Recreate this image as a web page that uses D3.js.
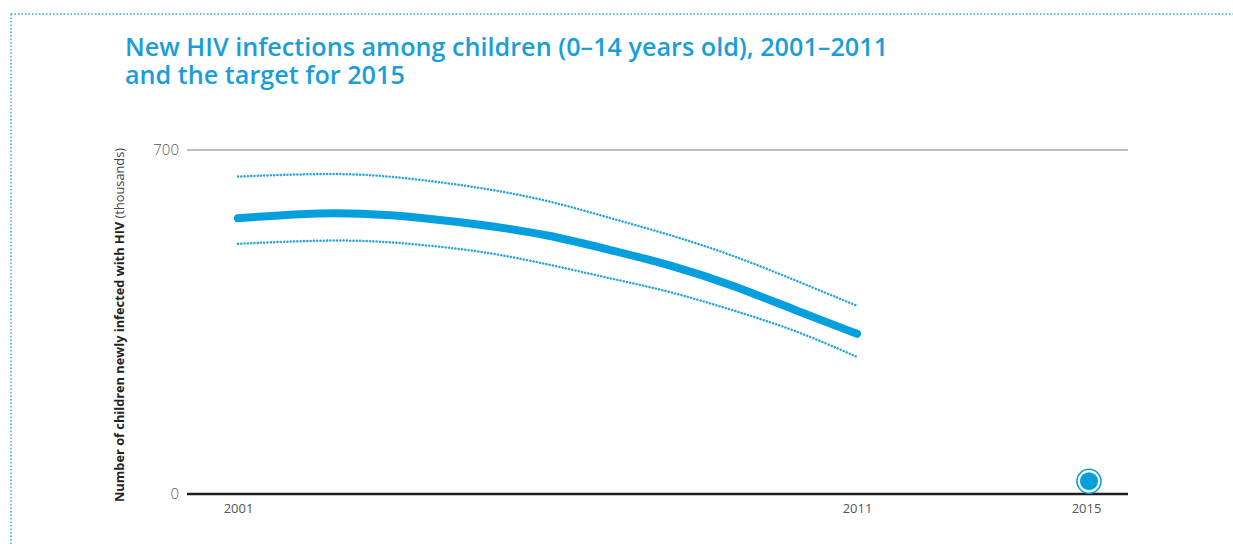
<!DOCTYPE html>
<html>
<head>
<meta charset="utf-8">
<script src="https://cdn.jsdelivr.net/npm/d3@7"></script>
<style>
  html, body { margin: 0; padding: 0; background: #fff; }
  svg { display: block; }
</style>
</head>
<body>
<svg id="chart" width="1233" height="544"></svg>
<script>
// ---- data ----
const years = [2001, 2002, 2003, 2004, 2005, 2006, 2007, 2008, 2009, 2010, 2011];
const estimate = [561, 571, 572, 562, 547, 528, 497, 466, 425, 374, 326];
const upperBound = [646, 651, 652, 639, 622, 598, 562, 527, 486, 435, 383];
const lowerBound = [509, 515, 517, 507, 493, 468, 439, 412, 374, 334, 279];
const targetYear = [2015];
const targetValue = [26];
const xTickLabels = [2001, 2011, 2015];
const yTickLabels = [0, 700];

const titleLines = ["New HIV infections among children (0\u201314 years old), 2001\u20132011", "and the target for 2015"];

const blue = "#049fdc";
const font = "'Open Sans', Lato, sans-serif";
const svg = d3.select("#chart");

// frame (dotted border)
svg.append("line").attr("x1", 11).attr("x2", 1233).attr("y1", 14).attr("y2", 14)
  .attr("stroke", "#2aa9e2").attr("stroke-width", 1.5).attr("stroke-dasharray", "1.5,2");
svg.append("line").attr("x1", 11).attr("x2", 11).attr("y1", 14).attr("y2", 544)
  .attr("stroke", "#2aa9e2").attr("stroke-width", 1.5).attr("stroke-dasharray", "1.5,2");

// title (two separate lines)
titleLines.forEach((t, i) => {
  svg.append("text").attr("x", 125).attr("y", 56 + i * 28)
    .attr("font-family", font).attr("font-weight", 600)
    .attr("font-size", 25.2).attr("fill", "#1a9ed8").text(t);
});

// scales
const x = d3.scaleLinear().domain([2001, 2011, 2015]).range([238, 857, 1089]);
const y = d3.scaleLinear().domain([0, 700]).range([494, 150]);
const lineLeft = 187, lineRight = 1128;

// gridline at 700
svg.append("line").attr("x1", lineLeft).attr("x2", lineRight)
  .attr("y1", y(700)).attr("y2", y(700))
  .attr("stroke", "#a8a8a8").attr("stroke-width", 1.5);

// y tick labels via axis
const yAxis = svg.append("g").attr("transform", `translate(${lineLeft - 8},0)`)
  .call(d3.axisLeft(y).tickValues(yTickLabels).tickSize(0).tickPadding(0));
yAxis.select(".domain").remove();
yAxis.selectAll("text").attr("font-family", font).attr("font-weight", 300)
  .attr("font-size", 15).attr("fill", "#555");

// y axis title
const yt = svg.append("text")
  .attr("transform", `translate(124,${325}) rotate(-90)`)
  .attr("text-anchor", "middle")
  .attr("font-family", font).attr("font-size", 12.8).attr("fill", "#222");
yt.append("tspan").attr("font-weight", 700).text("Number of children newly infected with HIV ");
yt.append("tspan").attr("font-weight", 400).attr("fill", "#444").text("(thousands)");

// bounds (dotted)
const mk = arr => years.map((yr, i) => [yr, arr[i]]);
const line = d3.line().x(d => x(d[0])).y(d => y(d[1])).curve(d3.curveBasis);

[upperBound, lowerBound].forEach(arr => {
  svg.append("path").datum(mk(arr)).attr("d", line)
    .attr("fill", "none").attr("stroke", "#2aa5de").attr("stroke-width", 2.5)
    .attr("stroke-dasharray", "0.1,3.2").attr("stroke-linecap", "round");
});

// estimate
svg.append("path").datum(mk(estimate)).attr("d", line)
  .attr("fill", "none").attr("stroke", blue).attr("stroke-width", 8)
  .attr("stroke-linecap", "round");

// baseline
svg.append("line").attr("x1", lineLeft).attr("x2", lineRight)
  .attr("y1", y(0)).attr("y2", y(0))
  .attr("stroke", "#1e1e1e").attr("stroke-width", 2.5);

// target
targetYear.forEach((yr, i) => {
  const cx = x(yr), cy = y(targetValue[i]);
  svg.append("circle").attr("cx", cx).attr("cy", cy).attr("r", 12)
    .attr("fill", "#fff").attr("stroke", blue).attr("stroke-width", 1.6);
  svg.append("circle").attr("cx", cx).attr("cy", cy).attr("r", 9).attr("fill", blue);
});

// x tick labels via axis
const xAxis = svg.append("g").attr("transform", `translate(0,${y(0) + 10})`)
  .call(d3.axisBottom(x).tickValues(xTickLabels).tickFormat(d3.format("d")).tickSize(0).tickPadding(0));
xAxis.select(".domain").remove();
xAxis.selectAll("text").attr("font-family", font)
  .attr("font-size", 13).attr("fill", "#555");
xAxis.selectAll(".tick").filter(d => d === 2015).select("text").attr("dx", -3);
</script>
</body>
</html>
